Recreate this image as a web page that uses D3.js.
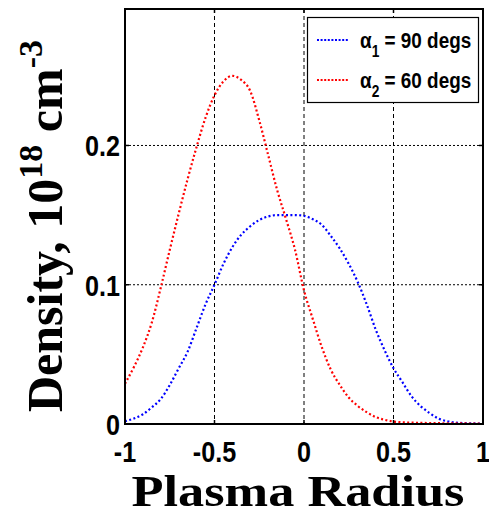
<!DOCTYPE html>
<html>
<head>
<meta charset="utf-8">
<script src="https://cdn.jsdelivr.net/npm/d3@7"></script>
<style>
  body { margin: 0; background: #fff; }
  svg { display: block; }
</style>
</head>
<body>
<div id="chart"></div>
<script>
// Plasma density profiles for two angles

const radius = [-1.0, -0.95, -0.9, -0.85, -0.8, -0.75, -0.7, -0.65, -0.6, -0.55,
                -0.5, -0.45, -0.4, -0.35, -0.3, -0.25, -0.2, -0.15, -0.1, -0.05,
                0.0, 0.05, 0.1, 0.15, 0.2, 0.25, 0.3, 0.35, 0.4, 0.45,
                0.5, 0.55, 0.6, 0.65, 0.7, 0.75, 0.8, 0.85, 0.9, 0.95, 1.0];

// alpha_1 = 90 degs (blue)
const density90 = [0.002, 0.004, 0.007, 0.012, 0.018, 0.028, 0.040, 0.052, 0.069, 0.086,
                   0.100, 0.115, 0.127, 0.136, 0.142, 0.1465, 0.149, 0.150, 0.150, 0.150,
                   0.1495, 0.147, 0.143, 0.135, 0.126, 0.115, 0.102, 0.086, 0.068, 0.053,
                   0.040, 0.030, 0.020, 0.013, 0.008, 0.004, 0.002, 0.001, 0.0006, 0.0004, 0.0003];

// alpha_2 = 60 degs (red)
const density60 = [0.029, 0.041, 0.055, 0.073, 0.098, 0.125, 0.151, 0.176, 0.199, 0.220,
                   0.236, 0.246, 0.250, 0.247, 0.239, 0.218, 0.193, 0.168, 0.147, 0.125,
                   0.096, 0.075, 0.055, 0.039, 0.028, 0.019, 0.013, 0.0085, 0.005, 0.003,
                   0.0018, 0.0012, 0.001, 0.0008, 0.0007, 0.0006, 0.0005, 0.0004, 0.0004, 0.0003, 0.0003];

const xTicks = [-1, -0.5, 0, 0.5, 1];
const xTickLabels = ["-1", "-0.5", "0", "0.5", "1"];
const yTicks = [0, 0.1, 0.2];
const yTickLabels = ["0", "0.1", "0.2"];

const seriesNames = ["90", "60"];
const seriesColors = ["#0000ff", "#ff0000"];

const width = 489, height = 516;
const plot = {left: 125, right: 483, top: 9, bottom: 424};

const svg = d3.select("#chart")
              .append("svg")
              .attr("width", width)
              .attr("height", height);

const xScale = d3.scaleLinear()
                 .domain([-1, 1])
                 .range([plot.left, plot.right]);
const yScale = d3.scaleLinear()
                 .domain([0, 0.298])
                 .range([plot.bottom, plot.top]);

// Grid lines (dashed, black), skipping the ones on the box edges
svg.append("g")
   .selectAll("line")
   .data(xTicks.filter(d => d > -1 && d < 1))
   .enter()
   .append("line")
   .attr("x1", d => xScale(d)).attr("x2", d => xScale(d))
   .attr("y1", plot.top).attr("y2", plot.bottom)
   .attr("stroke", "#000")
   .attr("stroke-width", 1)
   .attr("stroke-dasharray", "4,3");
svg.append("g")
   .selectAll("line")
   .data(yTicks.filter(d => d > 0))
   .enter()
   .append("line")
   .attr("x1", plot.left).attr("x2", plot.right)
   .attr("y1", d => yScale(d)).attr("y2", d => yScale(d))
   .attr("stroke", "#000")
   .attr("stroke-width", 1)
   .attr("stroke-dasharray", "2,2");

// Clip for the curves
svg.append("clipPath")
   .attr("id", "plot-clip")
   .append("rect")
   .attr("x", plot.left).attr("y", plot.top)
   .attr("width", plot.right - plot.left)
   .attr("height", plot.bottom - plot.top);

const line = d3.line()
               .x(d => xScale(d[0]))
               .y(d => yScale(d[1]))
               .curve(d3.curveMonotoneX);

const series = [density90, density60];
series.forEach(function (values, i) {
    svg.append("path")
       .datum(radius.map((r, j) => [r, values[j]]))
       .attr("clip-path", "url(#plot-clip)")
       .attr("d", line)
       .attr("fill", "none")
       .attr("stroke", seriesColors[i])
       .attr("stroke-width", 2.2)
       .attr("stroke-dasharray", "2,2.4");
});

// Box and inward ticks
svg.append("rect")
   .attr("x", plot.left).attr("y", plot.top)
   .attr("width", plot.right - plot.left)
   .attr("height", plot.bottom - plot.top)
   .attr("fill", "none")
   .attr("stroke", "#000")
   .attr("stroke-width", 2);

const ticks = svg.append("g").attr("stroke", "#000").attr("stroke-width", 1.5);
xTicks.forEach(function (t) {
    ticks.append("line").attr("x1", xScale(t)).attr("x2", xScale(t))
         .attr("y1", plot.bottom).attr("y2", plot.bottom - 4);
    ticks.append("line").attr("x1", xScale(t)).attr("x2", xScale(t))
         .attr("y1", plot.top).attr("y2", plot.top + 4);
});
yTicks.forEach(function (t) {
    ticks.append("line").attr("x1", plot.left).attr("x2", plot.left + 4)
         .attr("y1", yScale(t)).attr("y2", yScale(t));
    ticks.append("line").attr("x1", plot.right).attr("x2", plot.right - 4)
         .attr("y1", yScale(t)).attr("y2", yScale(t));
});

// Tick labels (narrow bold sans)
const tickFont = "'Liberation Sans', Arial, sans-serif";
xTicks.forEach(function (t, i) {
    svg.append("g")
       .attr("transform", "translate(" + xScale(t) + ",462) scale(0.84,1)")
       .append("text")
       .attr("text-anchor", "middle")
       .attr("font-family", tickFont)
       .attr("font-weight", "bold")
       .attr("font-size", 30)
       .text(xTickLabels[i]);
});
yTicks.forEach(function (t, i) {
    svg.append("g")
       .attr("transform", "translate(120," + (yScale(t) + 11) + ") scale(0.84,1)")
       .append("text")
       .attr("text-anchor", "end")
       .attr("font-family", tickFont)
       .attr("font-weight", "bold")
       .attr("font-size", 30)
       .text(yTickLabels[i]);
});

// Axis titles (bold serif)
const titleFont = "'Liberation Serif', 'Times New Roman', serif";
svg.append("text")
   .attr("x", 298)
   .attr("y", 506)
   .attr("text-anchor", "middle")
   .attr("font-family", titleFont)
   .attr("font-weight", "bold")
   .attr("font-size", 45)
   .attr("textLength", 333)
   .attr("lengthAdjust", "spacingAndGlyphs")
   .text("Plasma Radius");

const yTitle = svg.append("text")
   .attr("transform", "translate(62,412) rotate(-90)")
   .attr("font-family", titleFont)
   .attr("font-weight", "bold")
   .attr("font-size", 50);
yTitle.append("tspan").text("Density, 10");
yTitle.append("tspan").attr("font-size", 34).attr("dy", -20).text("18");
yTitle.append("tspan").attr("dy", 20).text(" cm");
yTitle.append("tspan").attr("font-size", 34).attr("dy", -20).text("-3");

// Legend
const legend = svg.append("g");
legend.append("rect")
      .attr("x", 307.5).attr("y", 17.5)
      .attr("width", 171).attr("height", 85)
      .attr("fill", "#fff")
      .attr("stroke", "#000")
      .attr("stroke-width", 1.2);

const legendY = [40, 80];
seriesNames.forEach(function (name, i) {
    legend.append("line")
          .attr("x1", 317).attr("x2", 349)
          .attr("y1", legendY[i]).attr("y2", legendY[i])
          .attr("stroke", seriesColors[i])
          .attr("stroke-width", 2.2)
          .attr("stroke-dasharray", "2,1.6");
    const g = legend.append("g")
                    .attr("transform", "translate(360," + (legendY[i] + 7.5) + ") scale(0.86,1)");
    const t = g.append("text")
               .attr("font-family", tickFont)
               .attr("font-weight", "bold")
               .attr("font-size", 22);
    t.append("tspan").text("\u03b1");
    t.append("tspan").attr("font-size", 16).attr("dy", 9).text(i + 1);
    t.append("tspan").attr("dy", -9).text(" = " + name + " degs");
});
</script>
</body>
</html>
